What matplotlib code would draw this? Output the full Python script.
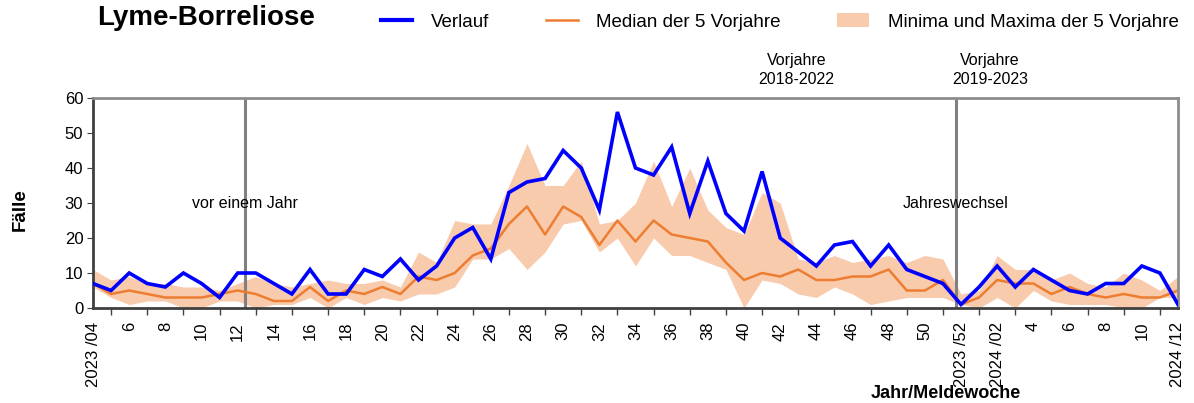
import matplotlib
matplotlib.use("Agg")
import matplotlib.pyplot as plt
from matplotlib.patches import Patch
from matplotlib.lines import Line2D

plt.rcParams['font.family'] = ['Liberation Sans', 'DejaVu Sans']

# Meldewochen 2023/04 .. 2024/12
wochen = [f"2023/{w:02d}" for w in range(4, 53)] + [f"2024/{w:02d}" for w in range(1, 13)]

verlauf = [7, 5, 10, 7, 6, 10, 7, 3, 10, 10, 7, 4, 11, 4, 4, 11, 9, 14, 8, 12,
           20, 23, 14, 33, 36, 37, 45, 40, 28, 56, 40, 38, 46, 27, 42, 27, 22, 39, 20, 16,
           12, 18, 19, 12, 18, 11, 9, 7, 1, 6, 12, 6, 11, 8, 5, 4, 7, 7, 12, 10,
           1]
median = [7, 4, 5, 4, 3, 3, 3, 4, 5, 4, 2, 2, 6, 2, 5, 4, 6, 4, 9, 8,
          10, 15, 17, 24, 29, 21, 29, 26, 18, 25, 19, 25, 21, 20, 19, 13, 8, 10, 9, 11,
          8, 8, 9, 9, 11, 5, 5, 8, 1, 3, 8, 7, 7, 4, 6, 4, 3, 4, 3, 3,
          5]
minima = [6, 3, 1, 2, 2, 0, 0, 2, 2, 0, 1, 1, 3, 0, 3, 1, 3, 2, 4, 4,
          6, 14, 14, 17, 11, 16, 24, 25, 16, 20, 12, 20, 15, 15, 13, 11, 0, 8, 7, 4,
          3, 6, 4, 1, 2, 3, 3, 3, 1, 0, 3, 0, 5, 2, 1, 1, 1, 0, 0, 3,
          3]
maxima = [11, 8, 9, 7, 7, 6, 6, 5, 7, 9, 7, 6, 7, 8, 7, 7, 8, 6, 16, 13,
          25, 24, 24, 35, 47, 35, 35, 42, 24, 25, 30, 42, 29, 40, 28, 23, 21, 33, 30, 14,
          13, 15, 13, 14, 15, 13, 15, 14, 4, 5, 15, 11, 11, 8, 10, 7, 6, 10, 8, 5,
          9]

x = list(range(len(wochen)))

fig = plt.figure(figsize=(11.94, 4.03), dpi=100)
ax = fig.add_axes([93/1194, 1-308/403, (1178-93)/1194, 210/403])

ax.fill_between(x, minima, maxima, color='#F8CBAD', lw=0, zorder=1)
ax.axvline(8.4, color='#808080', lw=2.2, zorder=1.5)
ax.axvline(47.7, color='#808080', lw=2.2, zorder=1.5)
ax.plot(x, median, color='#ED7D31', lw=1.8, zorder=2)
ax.plot(x, verlauf, color='#0000FF', lw=2.6, zorder=3, solid_joinstyle='miter')

ax.set_xlim(0, len(wochen) - 1)
ax.set_ylim(0, 60)
ax.set_yticks(range(0, 61, 10))

# Beschriftung jede zweite Woche, Striche dazwischen
labels = []
for i, w in enumerate(wochen):
    jahr, kw = w.split('/')
    if i in (0, len(wochen) - 1) or w in ('2023/52', '2024/02'):
        labels.append(f"{jahr} /{kw}")
    else:
        labels.append(str(int(kw)))
ax.set_xticks(x[::2])
ax.set_xticklabels(labels[::2], rotation=90, fontsize=12)
ax.set_xticks(x[1::2], minor=True)
ax.tick_params(axis='x', which='major', length=0, pad=10)
ax.tick_params(axis='x', which='minor', length=5, width=1, color='#404040', direction='out')
ax.tick_params(axis='y', labelsize=12, length=4, color='#404040', pad=3)

for s in ('top', 'right'):
    ax.spines[s].set_color('#8c8c8c')
    ax.spines[s].set_linewidth(2)
for s in ('left', 'bottom'):
    ax.spines[s].set_color('#404040')
    ax.spines[s].set_linewidth(2)

ax.text(8.4, 30, 'vor einem Jahr', ha='center', va='center', fontsize=11.5, zorder=4)
ax.text(47.7, 30, 'Jahreswechsel', ha='center', va='center', fontsize=11.5, zorder=4)
ax.text(38.9, 68, 'Vorjahre\n2018-2022', ha='center', va='center', fontsize=11.5,
        linespacing=1.3, clip_on=False)
ax.text(49.6, 68, 'Vorjahre\n2019-2023', ha='center', va='center', fontsize=11.5,
        linespacing=1.3, clip_on=False)

fig.text(97/1194, 1-18/403, 'Lyme-Borreliose', fontsize=20, weight='bold', va='center')
fig.text(20/1194, 1-210/403, 'Fälle', fontsize=13.5, weight='bold', rotation=90,
         ha='center', va='center')
fig.text(946/1194, 1-393/403, 'Jahr/Meldewoche', fontsize=13, weight='bold',
         ha='center', va='center')

handles = [Line2D([], [], color='#0000FF', lw=3),
           Line2D([], [], color='#ED7D31', lw=1.8),
           Patch(facecolor='#F8CBAD', edgecolor='none')]
fig.legend(handles, ['Verlauf', 'Median der 5 Vorjahre', 'Minima und Maxima der 5 Vorjahre'],
           loc='center right', bbox_to_anchor=(1188/1194, 1-22/403), ncol=3,
           frameon=False, fontsize=13.5, handlelength=1.7, columnspacing=3.0,
           handletextpad=1.0, borderpad=0)

fig.savefig('out.png', dpi=100)
